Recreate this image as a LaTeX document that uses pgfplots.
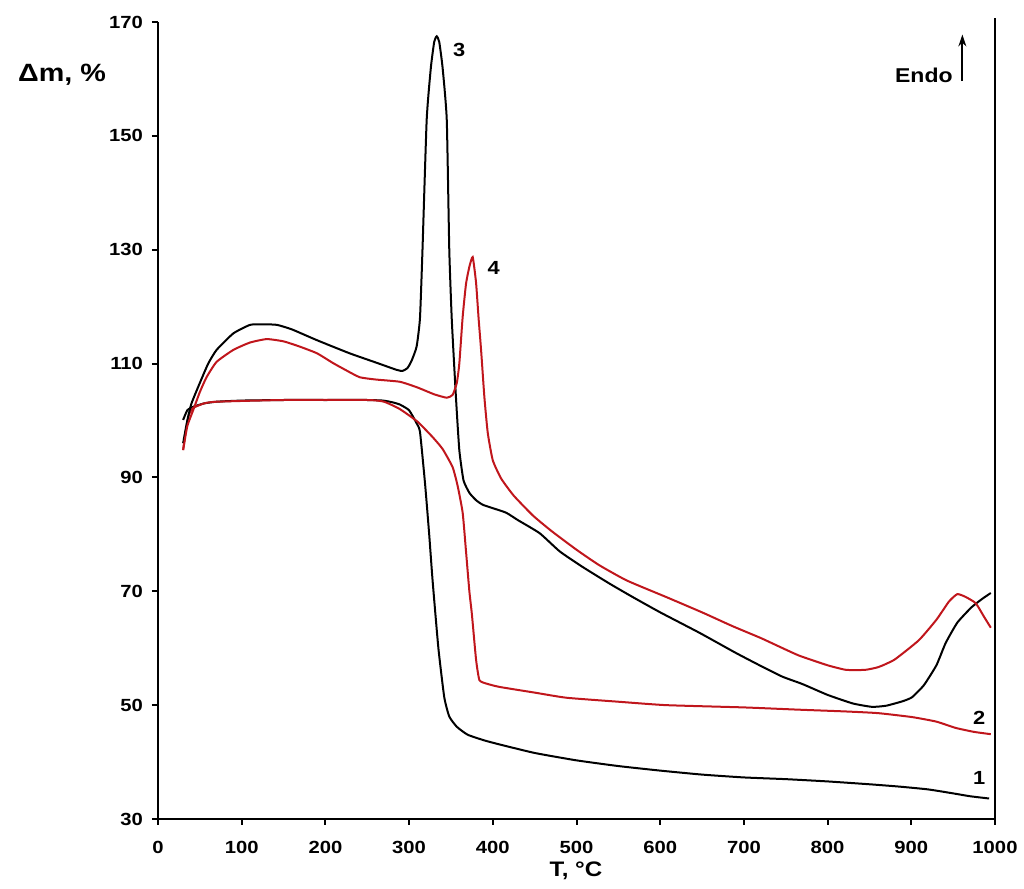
\documentclass[border=0pt]{standalone}
\usepackage{fontspec}
\setmainfont{Liberation Sans}[FakeStretch=1.15]
\usepackage{pgfplots}
\pgfplotsset{compat=1.18}
\usetikzlibrary{arrows.meta}
\definecolor{myred}{RGB}{192,22,28}
\begin{document}
\begin{tikzpicture}
\useasboundingbox (-79pt,-35pt) rectangle (433pt,409.5pt);
\begin{axis}[
  scale only axis, width=418.5pt, height=398.5pt,
  xmin=0, xmax=1000, ymin=30, ymax=170,
  xtick={0,100,...,1000}, ytick={30,50,...,170},
  axis x line*=bottom, axis y line*=left,
  axis line style={line width=1pt, black},
  tick align=outside, major tick length=3pt,
  tick style={line width=1pt, black},
  /pgf/number format/assume math mode=true,
  /pgf/number format/1000 sep={},
  ticklabel style={font=\fontsize{8.8}{10}\selectfont\bfseries},
  yticklabel style={xshift=-1pt},
  xticklabel style={yshift=-4.5pt},
  clip=false,
]
\addplot[black, line width=1pt, smooth, tension=0.3] coordinates {
(30,100.1)(35,101.8)(42,102.4)(55,103.0)(70,103.3)(100,103.5)(150,103.6)(200,103.6)(250,103.6)(269,103.5)(280,103.2)(289,102.8)(300,101.8)(309,99.5)(313,98.0)(319,89)(324,80)(328,72)(335,60)(342,51.4)(348,48)(357,46.2)(370,44.8)(390,43.8)(408,43.1)(450,41.6)(500,40.3)(550,39.3)(600,38.5)(650,37.8)(700,37.3)(750,37.0)(800,36.6)(850,36.1)(885,35.7)(920,35.2)(950,34.5)(970,34.0)(993,33.6)
};
\addplot[myred, line width=1pt, smooth, tension=0.3] coordinates {
(30,94.8)(33,98)(37,101)(42,102.2)(55,103.0)(70,103.3)(150,103.6)(250,103.6)(270,103.3)(289,102.0)(310,99.8)(328,97.1)(340,95)(352,91.8)(358,88.5)(364,83.8)(368,77)(372,70)(375,66)(380,58)(384,54.4)(392,53.8)(408,53.2)(450,52.2)(488,51.3)(550,50.6)(607,50.0)(700,49.6)(766,49.2)(820,48.9)(860,48.6)(901,47.9)(930,47.1)(953,46.0)(975,45.3)(995,44.9)
};
\addplot[black, line width=1pt, smooth, tension=0.3] coordinates {
(30,96)(35,100)(40,103)(50,106.6)(60,110)(70,112.4)(90,115.3)(110,116.8)(125,116.9)(142,116.8)(160,116.0)(190,114.1)(229,111.8)(260,110.2)(285,108.9)(292,108.7)(298,109.2)(303,110.5)(309,113)(313,118)(316,130)(321,152.8)(326,162)(330,166.5)(333,167.5)(336,166.5)(340,162)(345,152.8)(348,130)(351,117.7)(356,104)(360,94.8)(365,89.5)(372,87.3)(380,86)(388,85.2)(400,84.6)(416,83.8)(430,82.5)(456,80.2)(480,77)(507,74.3)(540,71.3)(567,69)(600,66.3)(647,62.7)(690,59.2)(720,56.9)(746,55.0)(770,53.7)(800,51.8)(830,50.3)(853,49.7)(870,49.9)(890,50.7)(901,51.4)(915,53.5)(930,57)(941,60.9)(955,64.5)(972,67.2)(985,68.7)(995,69.7)
};
\addplot[myred, line width=1pt, smooth, tension=0.3] coordinates {
(30,94.8)(35,99)(42,101.8)(50,105)(58,107.6)(70,110.3)(90,112.4)(110,113.7)(130,114.3)(150,113.9)(169,113)(190,111.8)(209,110.1)(225,108.8)(241,107.6)(260,107.2)(289,106.8)(310,105.8)(330,104.6)(345,104.0)(352,104.5)(357,106.6)(360,110)(364,118.2)(368,124)(372,127)(376,128.7)(380,124.2)(383,118)(386,112.4)(390,104)(394,97.8)(400,93.0)(410,89.8)(425,86.8)(448,83.3)(470,80.6)(500,77.3)(527,74.6)(560,71.9)(607,69.0)(650,66.3)(686,63.9)(720,61.8)(742,60.3)(766,58.7)(800,57.0)(822,56.2)(845,56.2)(861,56.7)(880,58.0)(909,61.4)(930,65)(945,68.2)(955,69.5)(965,69.0)(977,67.9)(987,65.5)(995,63.6)
};
\draw[line width=1pt] (rel axis cs:1,0) -- (rel axis cs:1,1.005);
\node[font=\fontsize{9.5}{11}\selectfont\bfseries] at (axis cs:360,165) {3};
\node[font=\fontsize{9.5}{11}\selectfont\bfseries] at (axis cs:401,126.8) {4};
\node[font=\fontsize{9.5}{11}\selectfont\bfseries] at (axis cs:981,47.8) {2};
\node[font=\fontsize{9.5}{11}\selectfont\bfseries] at (axis cs:981,37.2) {1};
\node[font=\fontsize{10}{12}\selectfont\bfseries] at (axis cs:915,160.7) {Endo};
\draw[-{Stealth[length=6pt,width=4pt]}, line width=0.9pt] (axis cs:961,159.6) -- (axis cs:961,167.8);
\end{axis}
\node[font=\fontsize{12.5}{14}\selectfont\bfseries] at (-48pt,372pt) {Δm, \%};
\node[font=\fontsize{10.5}{12}\selectfont\bfseries] at (209pt,-26pt) {T, °C};
\end{tikzpicture}
\end{document}
